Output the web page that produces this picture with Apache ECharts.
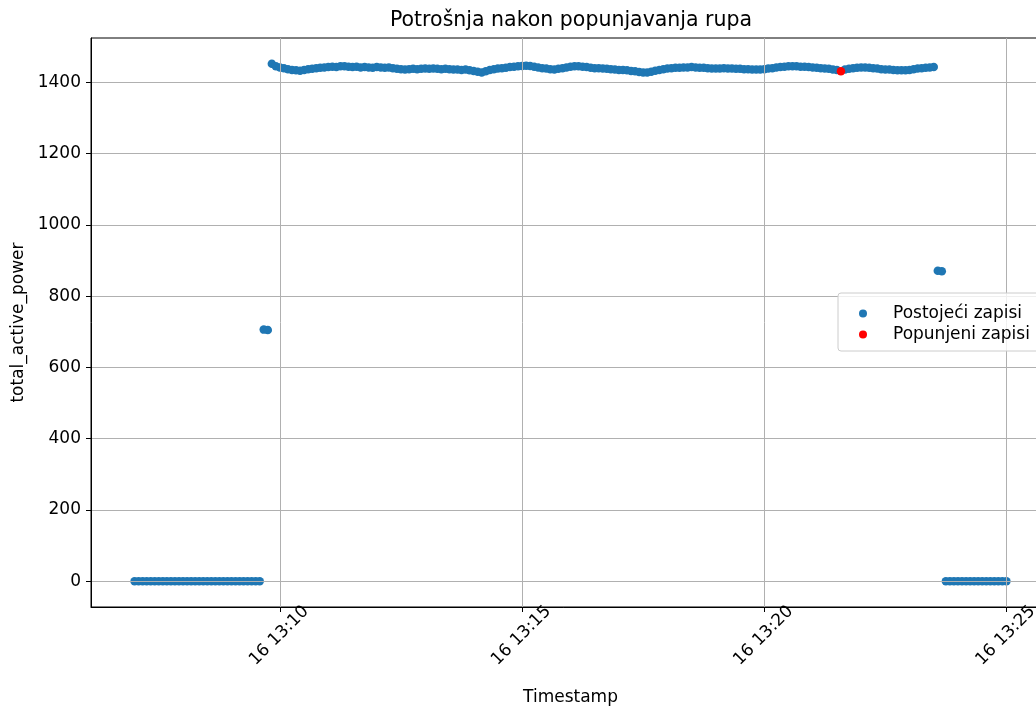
<!DOCTYPE html>
<html>
<head>
<meta charset="utf-8">
<script src="https://cdn.jsdelivr.net/npm/echarts@6/dist/echarts.min.js"></script>
<style>
html,body{margin:0;padding:0;background:#fff;}
#chart{width:1036px;height:709px;}
</style>
</head>
<body>
<div id="chart"></div>
<script>
// ---- Data (sampling step 5 s, day 16) ----
const DAY = 16;
const STEP_S = 5;
const title = 'Potrošnja nakon popunjavanja rupa';
const xName = 'Timestamp';
const yName = 'total_active_power';
const seriesNames = ['Postojeći zapisi', 'Popunjeni zapisi'];

const zerosStartA = '13:07:00';
const zerosA = [0,0,0,0,0,0,0,0,0,0, 0,0,0,0,0,0,0,0,0,0, 0,0,0,0,0,0,0,0,0,0, 0,0];
const riseStart = '13:09:40';
const riseValues = [706, 705];
const topStart = '13:09:50';
const topValues = [
  1452,1445,1442,1440,1437,1435,1434,1433,1435,1437,
  1438,1440,1441,1442,1443,1444,1443,1445,1445,1444,
  1443,1444,1442,1443,1442,1441,1443,1442,1441,1442,
  1440,1438,1437,1436,1437,1438,1437,1438,1439,1438,
  1439,1438,1437,1438,1437,1436,1436,1435,1436,1434,
  1432,1430,1428,1431,1435,1437,1439,1440,1441,1443,
  1444,1445,1446,1447,1446,1444,1442,1440,1439,1437,
  1436,1438,1440,1442,1444,1445,1445,1444,1443,1441,
  1440,1440,1439,1438,1437,1436,1435,1435,1434,1432,
  1431,1429,1428,1428,1430,1433,1435,1437,1439,1440,
  1441,1441,1442,1442,1443,1442,1441,1441,1440,1439,
  1439,1439,1440,1439,1439,1438,1438,1437,1437,1436,
  1436,1436,1437,1439,1440,1442,1443,1444,1445,1445,
  1445,1444,1444,1443,1442,1441,1440,1439,1438,1436,
  1435,null,1436,1438,1440,1441,1442,1442,1441,1440,
  1439,1437,1436,1436,1435,1434,1434,1434,1435,1437,
  1439,1440,1441,1442,1443
];
const dropStart = '13:23:35';
const dropValues = [871, 870];
const zerosStartB = '13:23:45';
const zerosB = [0,0,0,0,0,0,0,0,0,0, 0,0,0,0,0,0];

const filledTimes = ['13:21:35'];
const filledValues = [1431];

const xTickTimes = ['13:10:00', '13:15:00', '13:20:00', '13:25:00'];
const yTicks = [0, 200, 400, 600, 800, 1000, 1200, 1400];
const xMinTime = '13:06:06';
const xMaxTime = '13:25:54';
const yMin = -72.6;
const yMax = 1524.6;

// ---- helpers ----
const BASE = Date.UTC(2024, 0, DAY, 0, 0, 0);
function toMs(hms) {
  const p = hms.split(':').map(Number);
  return BASE + ((p[0] * 60 + p[1]) * 60 + p[2]) * 1000;
}
function seg(start, values) {
  const t0 = toMs(start);
  const out = [];
  values.forEach((v, i) => { if (v !== null) out.push([t0 + i * STEP_S * 1000, v]); });
  return out;
}
const existing = [].concat(
  seg(zerosStartA, zerosA), seg(riseStart, riseValues), seg(topStart, topValues),
  seg(dropStart, dropValues), seg(zerosStartB, zerosB)
);
const filled = filledTimes.map((t, i) => [toMs(t), filledValues[i]]);
function fmtX(v) {
  const d = new Date(v);
  const hh = String(d.getUTCHours()).padStart(2, '0');
  const mm = String(d.getUTCMinutes()).padStart(2, '0');
  return d.getUTCDate() + ' ' + hh + ':' + mm;
}
const xTicks = xTickTimes.map(toMs);

const FONT = 'DejaVu Sans';
const FS = 17;
const chart = echarts.init(document.getElementById('chart'), null, {renderer: 'canvas'});
chart.setOption({
  animation: false,
  backgroundColor: '#ffffff',
  textStyle: {fontFamily: FONT, color: '#000'},
  title: {
    text: title, left: 566, top: 5, textAlign: 'center',
    textStyle: {fontFamily: FONT, fontSize: 20.5, fontWeight: 'normal', color: '#000'}
  },
  grid: {
    left: 91, top: 38, bottom: 102, right: -14,
    outerBoundsMode: 'none', containLabel: false,
    show: true, borderColor: '#000', borderWidth: 1, backgroundColor: 'transparent'
  },
  legend: {
    orient: 'vertical', left: 838, top: 293,
    padding: [12, 10, 8, 21], itemGap: 4,
    itemWidth: 8, itemHeight: 8,
    backgroundColor: 'rgba(255,255,255,0.8)', borderColor: '#cccccc', borderWidth: 1, borderRadius: 3,
    textStyle: {fontFamily: FONT, fontSize: FS, color: '#000', padding: [0, 0, 0, 21]},
    data: seriesNames
  },
  xAxis: {
    type: 'value', min: toMs(xMinTime), max: toMs(xMaxTime), z: 3,
    name: xName, nameLocation: 'middle', nameGap: 82,
    nameTextStyle: {fontFamily: FONT, fontSize: FS, color: '#000'},
    axisLine: {show: true, onZero: false, lineStyle: {color: '#000', width: 1}},
    axisTick: {show: true, length: 5, lineStyle: {color: '#000'}, customValues: xTicks},
    axisLabel: {
      customValues: xTicks, formatter: fmtX, rotate: 45, align: 'center', verticalAlign: 'middle',
      margin: 28, padding: [0, 2, 10, 0], fontFamily: FONT, fontSize: FS, color: '#000'
    },
    splitLine: {show: true, lineStyle: {color: '#b0b0b0', width: 1}}
  },
  yAxis: {
    type: 'value', min: yMin, max: yMax, z: 3,
    name: yName, nameLocation: 'middle', nameGap: 64, nameRotate: 90,
    nameTextStyle: {fontFamily: FONT, fontSize: FS, color: '#000'},
    axisLine: {show: true, onZero: false, lineStyle: {color: '#000', width: 1}},
    axisTick: {show: true, length: 5, lineStyle: {color: '#000'}, customValues: yTicks},
    axisLabel: {customValues: yTicks, formatter: (v) => String(v), margin: 10, fontFamily: FONT, fontSize: FS, color: '#000'},
    splitLine: {show: true, lineStyle: {color: '#b0b0b0', width: 1}}
  },
  series: [
    {
      name: seriesNames[0], type: 'scatter', data: existing, symbol: 'circle', symbolSize: 8.5,
      itemStyle: {color: '#1f77b4', opacity: 1}, z: 2
    },
    {
      name: seriesNames[1], type: 'scatter', data: filled, symbol: 'circle', symbolSize: 8.5,
      itemStyle: {color: '#ff0000', opacity: 1}, z: 2
    }
  ]
});
</script>
</body>
</html>
